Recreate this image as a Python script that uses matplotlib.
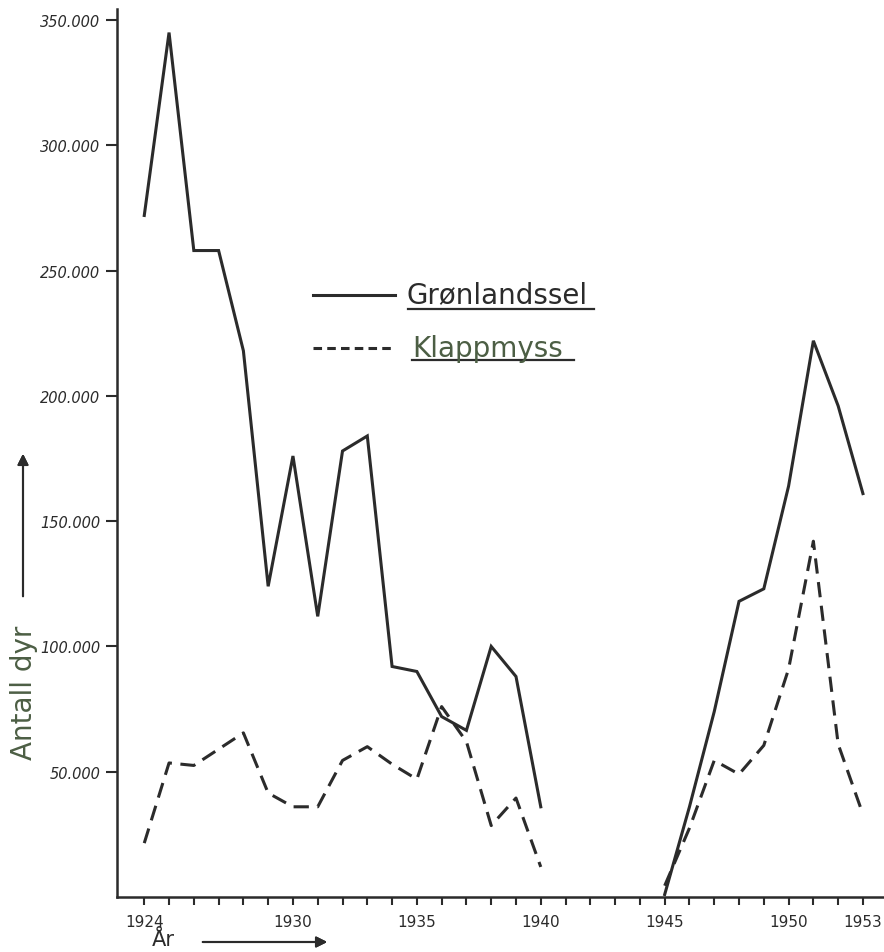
import numpy as np
import matplotlib
matplotlib.use("Agg")
import matplotlib.pyplot as plt
from matplotlib.lines import Line2D

# Fangst av sel, antall dyr per år (lest av figuren)
YEARS = list(range(1924, 1954))
GRONLANDSSEL = [272000, 345000, 258000, 258000, 218000, 124000, 176000, 112000,
                178000, 184000, 92000, 90000, 72000, 66500, 100000, 88000, 36000,
                None, None, None, None,
                1000, 36000, 74000, 118000, 123000, 164000, 222000, 196000, 161000]
KLAPPMYSS = [21500, 53500, 52500, 59000, 65500, 41500, 36000, 36000,
             54500, 60000, 53000, 47000, 76000, 62000, 28500, 39500, 12000,
             None, None, None, None,
             4500, 27500, 54500, 49000, 60500, 91000, 142000, 61000, 33000]

X_LABELED = [1924, 1930, 1935, 1940, 1945, 1950, 1953]
Y_TICKS = [50000, 100000, 150000, 200000, 250000, 300000, 350000]

INK = "#2b2b2b"
GREEN_INK = "#4c5e44"

W, H = 884, 953


def fx(px):
    return px / W


def fy(py):
    return 1 - py / H


def to_arr(vals):
    return np.array([np.nan if v is None else v for v in vals], dtype=float)


fig = plt.figure(figsize=(W / 100, H / 100), dpi=100)
ax = fig.add_axes([fx(117), fy(898), 1 - fx(117), fy(10) - fy(898)])

ax.plot(YEARS, to_arr(GRONLANDSSEL), color=INK, lw=2.2, solid_joinstyle="miter")
ax.plot(YEARS, to_arr(KLAPPMYSS), color=INK, lw=2.2, dashes=(5, 2.8))

ax.set_xlim(1922.9, 1953.85)
ax.set_ylim(0, 354400)

for side in ("top", "right"):
    ax.spines[side].set_visible(False)
for side in ("left", "bottom"):
    ax.spines[side].set_color(INK)
    ax.spines[side].set_linewidth(1.8)

ax.set_xticks(YEARS)
ax.set_xticklabels([str(y) if y in X_LABELED else "" for y in YEARS])
ax.set_yticks(Y_TICKS)
ax.set_yticklabels([f"{v // 1000}.000" for v in Y_TICKS])
ax.tick_params(axis="x", direction="out", length=6, width=1.5, color=INK,
               pad=6, labelsize=11, labelcolor=INK)
ax.tick_params(axis="y", direction="out", length=8, width=1.5, color=INK,
               pad=4, labelsize=10.5, labelcolor=INK)
for lbl in ax.get_yticklabels():
    lbl.set_fontstyle("italic")

# legend drawn by hand, with underlined names
fig.add_artist(Line2D([fx(313), fx(395)], [fy(296), fy(296)], color=INK, lw=2.2))
fig.add_artist(Line2D([fx(313), fx(395)], [fy(349), fy(349)], color=INK, lw=2.2,
                      dashes=(2.8, 1.7)))
fig.text(fx(406), fy(303), "Grønlandssel", fontsize=20, color=INK, va="baseline")
fig.add_artist(Line2D([fx(408), fx(594)], [fy(310), fy(310)], color=INK, lw=1.6))
fig.text(fx(412), fy(357), "Klappmyss", fontsize=20, color=GREEN_INK, va="baseline")
fig.add_artist(Line2D([fx(412), fx(574)], [fy(361), fy(361)], color=INK, lw=1.6))

# axis titles with arrows
fig.text(fx(24), fy(693), "Antall dyr", rotation=90, fontsize=20, color=GREEN_INK,
         ha="center", va="center")
fig.add_artist(plt.annotate("", xy=(fx(23), fy(452)), xytext=(fx(23), fy(600)),
                            xycoords="figure fraction",
                            arrowprops=dict(arrowstyle="-|>", color=INK, lw=1.5,
                                            mutation_scale=16)))
fig.text(fx(152), fy(940), "År", fontsize=15, color=INK, ha="left", va="center")
fig.add_artist(plt.annotate("", xy=(fx(330), fy(943)), xytext=(fx(200), fy(943)),
                            xycoords="figure fraction",
                            arrowprops=dict(arrowstyle="-|>", color=INK, lw=1.5,
                                            mutation_scale=16)))

fig.savefig("out.png", dpi=100, facecolor="white")
